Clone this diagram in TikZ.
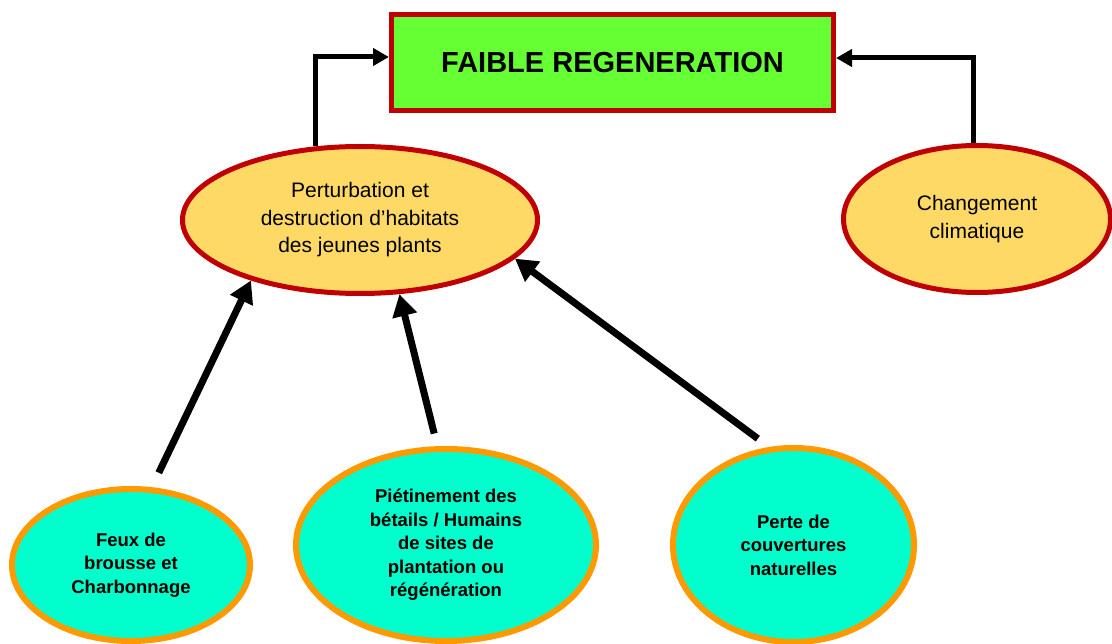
\documentclass[tikz,border=0pt]{standalone}
\usepackage{fontspec}
\setmainfont{Liberation Sans}
\usetikzlibrary{shapes.geometric,arrows.meta}
\definecolor{boxgreen}{HTML}{66FF33}
\definecolor{darkred}{HTML}{C00000}
\definecolor{ellyellow}{HTML}{FFD966}
\definecolor{ellcyan}{HTML}{00FFCC}
\definecolor{ellorange}{HTML}{FF9900}
\tikzset{
  titlebox/.style={draw=darkred, fill=boxgreen, line width=5pt, inner sep=0pt,
    minimum width=442pt, minimum height=96pt,
    font=\fontsize{29}{34}\selectfont\bfseries},
  yellowell/.style={ellipse, draw=darkred, fill=ellyellow, line width=5pt, inner sep=0pt,
    align=center, font=\fontsize{21}{27.5}\selectfont},
  cyanell/.style={ellipse, draw=ellorange, fill=ellcyan, line width=6pt, inner sep=0pt,
    align=center, font=\fontsize{18.5}{23.5}\selectfont\bfseries},
  elbowarrow/.style={line width=5pt, -{Triangle[length=16pt,width=17pt]}},
  bigarrow/.style={line width=7pt, -{Triangle[length=22pt,width=24pt]}}
}
\begin{document}
\begin{tikzpicture}[x=1pt,y=-1pt]
\clip (0,0) rectangle (1112,644);
\fill[white] (0,0) rectangle (1112,644);

\node[titlebox] (box) at (612.5,62.5) {FAIBLE REGENERATION};

\node[yellowell, minimum width=355pt, minimum height=147pt] (pert) at (360,220)
  {Perturbation et\\destruction d’habitats\\des jeunes plants};
\node[yellowell, minimum width=267pt, minimum height=147pt] (clim) at (977,219)
  {Changement\\climatique};

\node[cyanell, minimum width=238pt, minimum height=152pt] (feux) at (131,565)
  {Feux de\\brousse et\\Charbonnage};
\node[cyanell, minimum width=300pt, minimum height=192pt] (piet) at (446,545)
  {Piétinement des\\bétails / Humains\\de sites de\\plantation ou\\régénération};
\node[cyanell, minimum width=241pt, minimum height=194pt] (perte) at (793.5,545)
  {Perte de\\couvertures\\naturelles};

\draw[elbowarrow] (pert.121) |- ([yshift=5.5pt]box.west);
\draw[elbowarrow] (clim.93) |- ([yshift=4.5pt]box.east);

\draw[bigarrow, shorten <=16pt] (feux.75) -- (pert.209);
\draw[bigarrow, shorten <=13pt] (piet.95) -- (pert.298);
\draw[bigarrow, shorten <=14pt] (perte.104) -- (pert.346);
\end{tikzpicture}
\end{document}
